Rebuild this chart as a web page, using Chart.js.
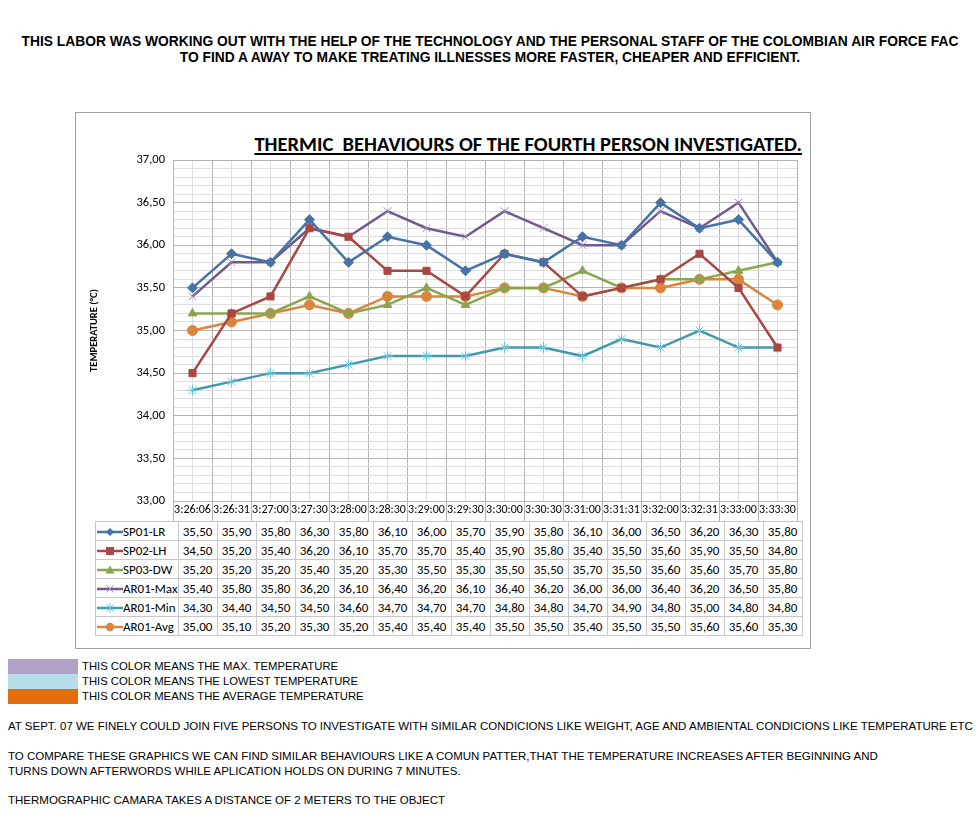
<!DOCTYPE html>
<html>
<head>
<meta charset="utf-8">
<script src="https://cdn.jsdelivr.net/npm/chart.js@4/dist/chart.umd.min.js"></script>
<style>
  body { margin: 0; width: 980px; height: 840px; overflow: hidden; background: #fff; font-family: "Liberation Sans", Arial, sans-serif; position: relative; }
  .top { position: absolute; left: 0; width: 980px; text-align: center; font-weight: bold; font-size: 13.8px; white-space: nowrap; }
  #box { position: absolute; left: 75px; top: 112px; width: 734px; height: 535px; border: 1px solid #a0a0a0; }
  #wrap { position: absolute; left: 0; top: 0; width: 733px; height: 408px; }
  #title { position: absolute; right: 8px; top: 18px; font-family: Calibri, Carlito, Lato, sans-serif; font-weight: bold; font-size: 20.5px; text-decoration: underline; white-space: pre; }
  #tbl { position: absolute; border-collapse: collapse; font-family: Calibri, Carlito, Lato, sans-serif; font-size: 13px; table-layout: fixed; }
  #tbl td { border: 1px solid #c8c8c8; height: 18px; padding: 0; text-align: center; white-space: nowrap; overflow: hidden; }
  #tbl td.lab { text-align: left; padding-left: 1px; }
  .sw { position: absolute; left: 8px; width: 70px; height: 15px; }
  .swt { position: absolute; left: 82px; font-size: 11.3px; white-space: nowrap; }
  .note { position: absolute; left: 8px; font-size: 11.5px; white-space: nowrap; }
</style>
</head>
<body>
<div class="top" style="top:34px">THIS LABOR WAS WORKING OUT WITH THE HELP OF THE TECHNOLOGY AND THE PERSONAL STAFF OF THE COLOMBIAN AIR FORCE FAC</div>
<div class="top" style="top:50px">TO FIND A AWAY TO MAKE TREATING ILLNESSES MORE FASTER, CHEAPER AND EFFICIENT.</div>

<div id="box">
  <div id="title">THERMIC  BEHAVIOURS OF THE FOURTH PERSON INVESTIGATED.</div>
  <div id="wrap"><canvas id="chart"></canvas></div>
  <table id="tbl"></table>
</div>

<div class="sw" style="top:659px;background:#b1a0c7"></div>
<div class="sw" style="top:674px;background:#b7dee8"></div>
<div class="sw" style="top:689px;background:#e46c0a"></div>
<div class="swt" style="top:660px">THIS COLOR MEANS THE MAX. TEMPERATURE</div>
<div class="swt" style="top:675px">THIS COLOR MEANS THE LOWEST TEMPERATURE</div>
<div class="swt" style="top:690px">THIS COLOR MEANS THE AVERAGE TEMPERATURE</div>

<div class="note" style="top:720px">AT SEPT. 07 WE FINELY COULD JOIN FIVE PERSONS TO INVESTIGATE WITH SIMILAR CONDICIONS LIKE WEIGHT, AGE AND AMBIENTAL CONDICIONS LIKE TEMPERATURE ETC</div>
<div class="note" style="top:750px">TO COMPARE THESE GRAPHICS WE CAN FIND SIMILAR BEHAVIOURS LIKE A COMUN PATTER,THAT THE TEMPERATURE INCREASES AFTER BEGINNING AND</div>
<div class="note" style="top:765px">TURNS DOWN AFTERWORDS WHILE APLICATION HOLDS ON DURING 7 MINUTES.</div>
<div class="note" style="top:794px">THERMOGRAPHIC CAMARA TAKES A DISTANCE OF 2 METERS TO THE OBJECT</div>

<script>
// times of each capture
const times = ["3:26:06", "3:26:31", "3:27:00", "3:27:30", "3:28:00", "3:28:30", "3:29:00", "3:29:30",
  "3:30:00", "3:30:30", "3:31:00", "3:31:31", "3:32:00", "3:32:31", "3:33:00", "3:33:30"];

const sp01 = [35.5, 35.9, 35.8, 36.3, 35.8, 36.1, 36.0, 35.7, 35.9, 35.8, 36.1, 36.0, 36.5, 36.2, 36.3, 35.8];
const sp02 = [34.5, 35.2, 35.4, 36.2, 36.1, 35.7, 35.7, 35.4, 35.9, 35.8, 35.4, 35.5, 35.6, 35.9, 35.5, 34.8];
const sp03 = [35.2, 35.2, 35.2, 35.4, 35.2, 35.3, 35.5, 35.3, 35.5, 35.5, 35.7, 35.5, 35.6, 35.6, 35.7, 35.8];
const arMax = [35.4, 35.8, 35.8, 36.2, 36.1, 36.4, 36.2, 36.1, 36.4, 36.2, 36.0, 36.0, 36.4, 36.2, 36.5, 35.8];
const arMin = [34.3, 34.4, 34.5, 34.5, 34.6, 34.7, 34.7, 34.7, 34.8, 34.8, 34.7, 34.9, 34.8, 35.0, 34.8, 34.8];
const arAvg = [35.0, 35.1, 35.2, 35.3, 35.2, 35.4, 35.4, 35.4, 35.5, 35.5, 35.4, 35.5, 35.5, 35.6, 35.6, 35.3];

const names = ["SP01-LR", "SP02-LH", "SP03-DW", "AR01-Max", "AR01-Min", "AR01-Avg"];
const colors = ["#4572a7", "#aa4643", "#89a54e", "#71588f", "#4198af", "#db843d"];
const styles = ["rectRot", "rect", "triangle", "crossRot", "star", "circle"];
const series = [sp01, sp02, sp03, arMax, arMin, arAvg];

const yMin = 33, yMax = 37;
const font = "Calibri, Carlito, Lato, sans-serif";

function fmt(v) {
  return v.toFixed(2).replace(".", ",");
}
function isMajor(v) {
  return Math.abs(v * 2 - Math.round(v * 2)) < 1e-6;
}

const datasets = series.map((d, i) => {
  const thin = styles[i] == "crossRot" || styles[i] == "star";
  return {
    label: names[i],
    data: d,
    borderColor: colors[i],
    backgroundColor: colors[i],
    borderWidth: 2.5,
    pointStyle: styles[i],
    pointRadius: thin ? 5.5 : 5,
    pointBorderWidth: 1,
    pointBorderColor: styles[i] == "crossRot" ? "#a08cc0" : styles[i] == "star" ? "#6cc4dc" : colors[i],
    tension: 0,
    xAxisID: "x",
  };
});

const ctx = document.getElementById("chart");
const chart = new Chart(ctx, {
  type: "line",
  data: { labels: times, datasets: datasets },
  options: {
    responsive: true,
    maintainAspectRatio: false,
    animation: false,
    layout: { padding: { left: 12, top: 47, right: 12, bottom: 0 } },
    plugins: { legend: { display: false }, tooltip: { enabled: false } },
    scales: {
      x: {
        type: "category",
        offset: true,
        grid: { offset: true, color: "#b4b4b4", tickLength: 20, lineWidth: 1 },
        border: { color: "#b4b4b4" },
        ticks: {
          color: "#000", padding: -18, maxRotation: 0, autoSkip: false,
          font: { family: font, size: 12 },
        },
        afterFit: (s) => { s.height = 20; },
      },
      x2: {
        type: "category",
        labels: times,
        offset: true,
        position: "bottom",
        grid: { offset: false, color: "#dedede", drawTicks: false },
        border: { display: false },
        ticks: { display: false },
        afterFit: (s) => { s.height = 0; },
      },
      y: {
        min: yMin,
        max: yMax,
        grid: {
          color: (c) => (isMajor(c.tick.value) ? "#b4b4b4" : "#dedede"),
          drawTicks: false,
        },
        border: { color: "#b4b4b4" },
        ticks: {
          stepSize: 0.1,
          autoSkip: false,
          padding: 8,
          color: "#000",
          font: { family: font, size: 12.5 },
          callback: (v) => (isMajor(v) ? fmt(v) : ""),
        },
        title: {
          display: true,
          text: "TEMPERATURE (°C)",
          color: "#000",
          padding: { top: 0, bottom: 0 },
          font: { family: font, size: 10.5, weight: "bold" },
        },
        afterFit: (s) => { s.width = 85; },
      },
    },
  },
});

// data table under the chart, columns follow the x scale
const area = chart.chartArea;
const colW = (area.right - area.left) / times.length;
const labW = 78;
const tbl = document.getElementById("tbl");
tbl.style.left = area.left - labW + "px";
tbl.style.top = area.bottom + 20 + "px";

let cg = "<colgroup><col style='width:" + labW + "px'>";
times.forEach(() => { cg += "<col style='width:" + colW + "px'>"; });
cg += "</colgroup>";

function marker(i) {
  const c = colors[i];
  let m = "";
  if (styles[i] == "rectRot") m = "<polygon points='13,2 17,6 13,10 9,6' fill='" + c + "'/>";
  if (styles[i] == "rect") m = "<rect x='9' y='2' width='8' height='8' fill='" + c + "'/>";
  if (styles[i] == "triangle") m = "<polygon points='13,1.5 17.5,9.5 8.5,9.5' fill='" + c + "'/>";
  if (styles[i] == "crossRot") m = "<path d='M9.5 2.5 L16.5 9.5 M16.5 2.5 L9.5 9.5' stroke='#a08cc0' stroke-width='1'/>";
  if (styles[i] == "star") m = "<path d='M9.5 2.5 L16.5 9.5 M16.5 2.5 L9.5 9.5 M13 1.5 L13 10.5' stroke='#6cc4dc' stroke-width='1'/>";
  if (styles[i] == "circle") m = "<circle cx='13' cy='6' r='4.2' fill='" + c + "'/>";
  return "<svg width='26' height='12' style='vertical-align:middle'><line x1='0' y1='6' x2='26' y2='6' stroke='" + c + "' stroke-width='2.5'/>" + m + "</svg>";
}

let rows = "";
series.forEach((d, i) => {
  rows += "<tr><td class='lab'>" + marker(i) + names[i] + "</td>";
  d.forEach((v) => { rows += "<td>" + fmt(v) + "</td>"; });
  rows += "</tr>";
});
tbl.innerHTML = cg + rows;
</script>
</body>
</html>
